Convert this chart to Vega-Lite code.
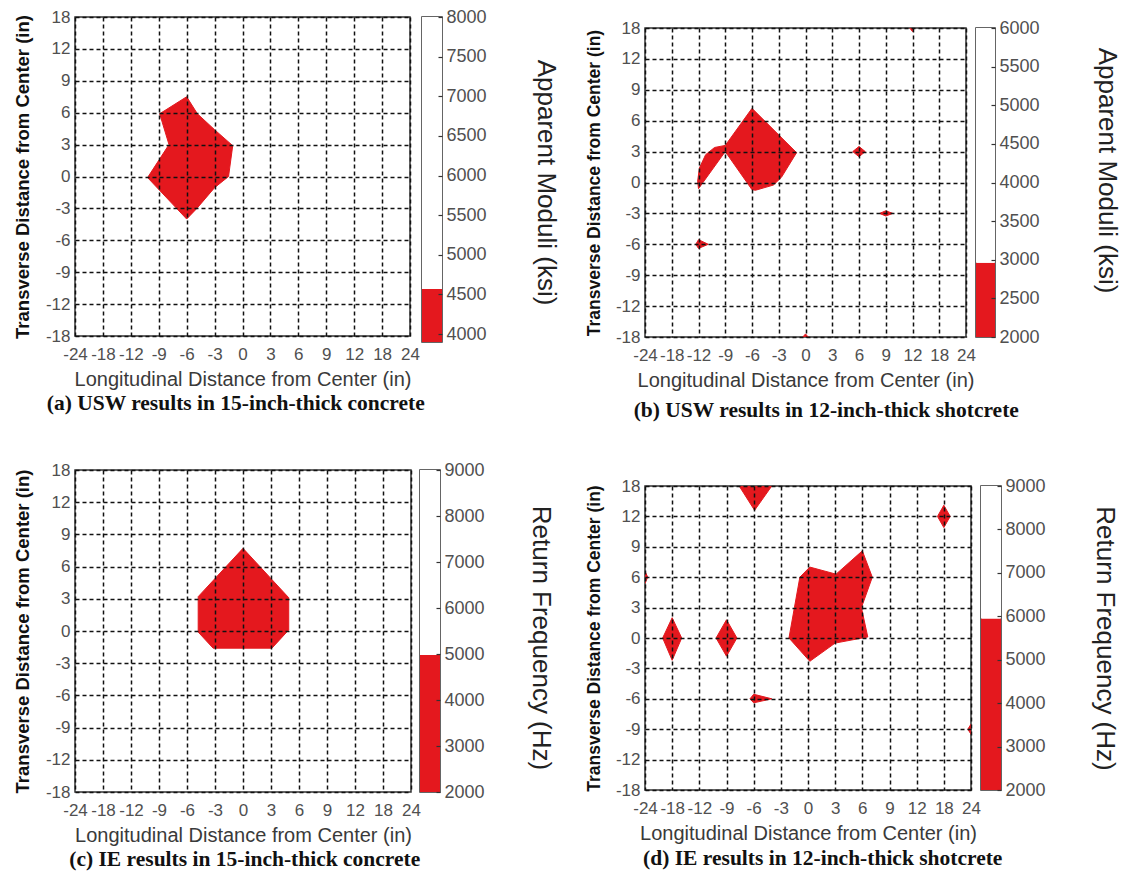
{
  "$schema": "https://vega.github.io/schema/vega-lite/v6.json",
  "background": "white",
  "padding": {"left": 12, "top": 7, "right": 0, "bottom": 0},
  "config": {
    "font": "Liberation Sans",
    "view": {"stroke": "#333333", "strokeWidth": 1.5},
    "axis": {
      "labelFont": "Liberation Sans",
      "labelColor": "#505050",
      "labelFontSize": 17,
      "titleFont": "Liberation Sans",
      "domain": false,
      "ticks": false,
      "labelOverlap": false,
      "labelBound": false,
      "labelFlush": false,
      "gridColor": "#111111",
      "gridDash": [4, 3],
      "gridWidth": 1.5,
      "gridOpacity": 1
    }
  },
  "datasets": {
    "regions_a": [
      {"shape": 1, "i": 0, "x": -6, "y": 7.5},
      {"shape": 1, "i": 1, "x": -4.85, "y": 5.9},
      {"shape": 1, "i": 2, "x": -3, "y": 4.4},
      {"shape": 1, "i": 3, "x": -1.05, "y": 2.9},
      {"shape": 1, "i": 4, "x": -1.5, "y": 0.0},
      {"shape": 1, "i": 5, "x": -3, "y": -1.05},
      {"shape": 1, "i": 6, "x": -4.9, "y": -3},
      {"shape": 1, "i": 7, "x": -6, "y": -4.0},
      {"shape": 1, "i": 8, "x": -10.2, "y": -0.1},
      {"shape": 1, "i": 9, "x": -7.9, "y": 3.0},
      {"shape": 1, "i": 10, "x": -8.9, "y": 5.9}
    ],
    "regions_b": [
      {"shape": 1, "i": 0, "x": -6, "y": 7.2},
      {"shape": 1, "i": 1, "x": -1, "y": 2.9},
      {"shape": 1, "i": 2, "x": -2.7, "y": 0.5},
      {"shape": 1, "i": 3, "x": -3.6, "y": -0.25},
      {"shape": 1, "i": 4, "x": -5.6, "y": -0.75},
      {"shape": 1, "i": 5, "x": -6, "y": -0.7},
      {"shape": 1, "i": 6, "x": -9, "y": 3},
      {"shape": 1, "i": 7, "x": -12, "y": -0.6},
      {"shape": 1, "i": 8, "x": -12.2, "y": 0.1},
      {"shape": 1, "i": 9, "x": -11.9, "y": 1.4},
      {"shape": 1, "i": 10, "x": -11.2, "y": 2.7},
      {"shape": 1, "i": 11, "x": -10.2, "y": 3.4},
      {"shape": 1, "i": 12, "x": -9, "y": 3.6},
      {"shape": 2, "i": 0, "x": 5.3, "y": 3},
      {"shape": 2, "i": 1, "x": 6, "y": 3.5},
      {"shape": 2, "i": 2, "x": 6.7, "y": 3},
      {"shape": 2, "i": 3, "x": 6, "y": 2.5},
      {"shape": 3, "i": 0, "x": 8.3, "y": -3},
      {"shape": 3, "i": 1, "x": 9, "y": -2.75},
      {"shape": 3, "i": 2, "x": 9.8, "y": -3},
      {"shape": 3, "i": 3, "x": 9, "y": -3.25},
      {"shape": 4, "i": 0, "x": -12.6, "y": -6},
      {"shape": 4, "i": 1, "x": -12, "y": -5.55},
      {"shape": 4, "i": 2, "x": -10.9, "y": -6},
      {"shape": 4, "i": 3, "x": -12, "y": -6.4},
      {"shape": 5, "i": 0, "x": 11.7, "y": 18},
      {"shape": 5, "i": 1, "x": 12.3, "y": 18},
      {"shape": 5, "i": 2, "x": 12, "y": 17.3},
      {"shape": 6, "i": 0, "x": -0.3, "y": -18},
      {"shape": 6, "i": 1, "x": 0.3, "y": -18},
      {"shape": 6, "i": 2, "x": 0, "y": -17.4}
    ],
    "regions_c": [
      {"shape": 1, "i": 0, "x": 0, "y": 7.7},
      {"shape": 1, "i": 1, "x": 4.9, "y": 3.1},
      {"shape": 1, "i": 2, "x": 4.9, "y": 0.1},
      {"shape": 1, "i": 3, "x": 3.1, "y": -1.6},
      {"shape": 1, "i": 4, "x": -3.2, "y": -1.6},
      {"shape": 1, "i": 5, "x": -4.8, "y": -0.1},
      {"shape": 1, "i": 6, "x": -4.8, "y": 3.2}
    ],
    "regions_d": [
      {"shape": 1, "i": 0, "x": 0.2, "y": 7.0},
      {"shape": 1, "i": 1, "x": 3.1, "y": 6.3},
      {"shape": 1, "i": 2, "x": 6.0, "y": 8.6},
      {"shape": 1, "i": 3, "x": 7.1, "y": 6.0},
      {"shape": 1, "i": 4, "x": 5.9, "y": 3.0},
      {"shape": 1, "i": 5, "x": 6.6, "y": 0.1},
      {"shape": 1, "i": 6, "x": 3, "y": -0.5},
      {"shape": 1, "i": 7, "x": 0.2, "y": -2.3},
      {"shape": 1, "i": 8, "x": -2.1, "y": 0.0},
      {"shape": 1, "i": 9, "x": -1.5, "y": 3.0},
      {"shape": 1, "i": 10, "x": -0.9, "y": 6.0},
      {"shape": 2, "i": 0, "x": -7.6, "y": 18},
      {"shape": 2, "i": 1, "x": -4.0, "y": 18},
      {"shape": 2, "i": 2, "x": -5.9, "y": 13.2},
      {"shape": 3, "i": 0, "x": 18, "y": 14.2},
      {"shape": 3, "i": 1, "x": 19.4, "y": 12},
      {"shape": 3, "i": 2, "x": 18, "y": 10.9},
      {"shape": 3, "i": 3, "x": 16.6, "y": 12},
      {"shape": 4, "i": 0, "x": -24, "y": 6.6},
      {"shape": 4, "i": 1, "x": -23.4, "y": 6},
      {"shape": 4, "i": 2, "x": -24, "y": 5.4},
      {"shape": 5, "i": 0, "x": 24, "y": -8.5},
      {"shape": 5, "i": 1, "x": 23.3, "y": -9},
      {"shape": 5, "i": 2, "x": 24, "y": -9.5},
      {"shape": 6, "i": 0, "x": -18, "y": 2.0},
      {"shape": 6, "i": 1, "x": -15.9, "y": 0},
      {"shape": 6, "i": 2, "x": -18, "y": -2.2},
      {"shape": 6, "i": 3, "x": -20.1, "y": 0},
      {"shape": 7, "i": 0, "x": -9, "y": 1.8},
      {"shape": 7, "i": 1, "x": -7.85, "y": 0},
      {"shape": 7, "i": 2, "x": -9, "y": -1.8},
      {"shape": 7, "i": 3, "x": -10.15, "y": 0},
      {"shape": 8, "i": 0, "x": -6.4, "y": -6},
      {"shape": 8, "i": 1, "x": -6, "y": -5.55},
      {"shape": 8, "i": 2, "x": -4.0, "y": -6},
      {"shape": 8, "i": 3, "x": -6, "y": -6.4}
    ],
    "scale_a": [{"lo": 3900, "hi": 4570, "band": "below"}, {"lo": 4570, "hi": 8000, "band": "above"}],
    "scale_b": [{"lo": 2000, "hi": 2960, "band": "below"}, {"lo": 2960, "hi": 6000, "band": "above"}],
    "scale_c": [{"lo": 2000, "hi": 4980, "band": "below"}, {"lo": 4980, "hi": 9000, "band": "above"}],
    "scale_d": [{"lo": 2000, "hi": 5950, "band": "below"}, {"lo": 5950, "hi": 9000, "band": "above"}]
  },
  "hconcat": [
    {
      "spacing": 45,
      "vconcat": [
        {
          "bounds": "flush",
          "spacing": 12,
          "title": {"text": "(a) USW results in 15-inch-thick concrete", "orient": "bottom", "font": "Liberation Serif", "fontSize": 21.5, "fontWeight": "bold", "color": "#111111", "offset": 3, "anchor": "middle", "dx": -14},
          "hconcat": [
            {
              "width": 335,
              "height": 319,
              "data": {"name": "regions_a"},
              "mark": {"type": "line", "interpolate": "linear-closed", "fill": "#e4181e", "stroke": "#e4181e", "strokeWidth": 1, "clip": true},
              "encoding": {
                "x": {"field": "x", "type": "quantitative",
                  "scale": {"type": "linear", "nice": false, "zero": false, "domain": [-24, -18, -12, -9, -6, -3, 0, 3, 6, 9, 12, 18, 24], "range": [0, 27.917, 55.833, 83.75, 111.667, 139.583, 167.5, 195.417, 223.333, 251.25, 279.167, 307.083, 335]},
                  "axis": {"title": "Longitudinal Distance from Center (in)", "values": [-24, -18, -12, -9, -6, -3, 0, 3, 6, 9, 12, 18, 24], "labelExpr": "'' + datum.value", "grid": true, "zindex": 1, "labelPadding": 10, "titleFontSize": 20, "titleFontWeight": "normal", "titleColor": "#3a3a3a", "titlePadding": 7}},
                "y": {"field": "y", "type": "quantitative",
                  "scale": {"type": "linear", "nice": false, "zero": false, "domain": [-18, -12, -9, -6, -3, 0, 3, 6, 9, 12, 18], "range": [319, 287.1, 255.2, 223.3, 191.4, 159.5, 127.6, 95.7, 63.8, 31.9, 0]},
                  "axis": {"title": "Transverse Distance from Center (in)", "values": [-18, -12, -9, -6, -3, 0, 3, 6, 9, 12, 18], "labelExpr": "'' + datum.value", "grid": true, "zindex": 1, "labelPadding": 5, "titleFontSize": 18.5, "titleFontWeight": "bold", "titleColor": "#111111", "titlePadding": 13}},
                "detail": {"field": "shape", "type": "nominal"},
                "order": {"field": "i", "type": "quantitative"}
              }
            },
            {
              "width": 20,
              "height": 325,
              "data": {"name": "scale_a"},
              "mark": {"type": "rect"},
              "encoding": {
                "y": {"field": "lo", "type": "quantitative", "scale": {"domain": [3900, 8000], "nice": false, "zero": false},
                  "axis": {"orient": "right", "title": null, "values": [4000, 4500, 5000, 5500, 6000, 6500, 7000, 7500, 8000], "format": "d", "grid": false, "ticks": true, "tickSize": -4, "tickColor": "#333333", "tickWidth": 1.2, "labelPadding": 8, "labelFontSize": 18, "zindex": 1}},
                "y2": {"field": "hi"},
                "color": {"field": "band", "type": "nominal", "scale": {"domain": ["below", "above"], "range": ["#e4181e", "#ffffff"]}, "legend": null}
              }
            }
          ]
        },
        {
          "bounds": "flush",
          "spacing": 9,
          "title": {"text": "(c) IE results in 15-inch-thick concrete", "orient": "bottom", "font": "Liberation Serif", "fontSize": 21.5, "fontWeight": "bold", "color": "#111111", "offset": 3, "anchor": "middle", "dx": -4},
          "hconcat": [
            {
              "width": 336,
              "height": 322,
              "data": {"name": "regions_c"},
              "mark": {"type": "line", "interpolate": "linear-closed", "fill": "#e4181e", "stroke": "#e4181e", "strokeWidth": 1, "clip": true},
              "encoding": {
                "x": {"field": "x", "type": "quantitative",
                  "scale": {"type": "linear", "nice": false, "zero": false, "domain": [-24, -18, -12, -9, -6, -3, 0, 3, 6, 9, 12, 18, 24], "range": [0, 28, 56, 84, 112, 140, 168, 196, 224, 252, 280, 308, 336]},
                  "axis": {"title": "Longitudinal Distance from Center (in)", "values": [-24, -18, -12, -9, -6, -3, 0, 3, 6, 9, 12, 18, 24], "labelExpr": "'' + datum.value", "grid": true, "zindex": 1, "labelPadding": 10, "titleFontSize": 20, "titleFontWeight": "normal", "titleColor": "#3a3a3a", "titlePadding": 7}},
                "y": {"field": "y", "type": "quantitative",
                  "scale": {"type": "linear", "nice": false, "zero": false, "domain": [-18, -12, -9, -6, -3, 0, 3, 6, 9, 12, 18], "range": [322, 289.8, 257.6, 225.4, 193.2, 161, 128.8, 96.6, 64.4, 32.2, 0]},
                  "axis": {"title": "Transverse Distance from Center (in)", "values": [-18, -12, -9, -6, -3, 0, 3, 6, 9, 12, 18], "labelExpr": "'' + datum.value", "grid": true, "zindex": 1, "labelPadding": 5, "titleFontSize": 18.5, "titleFontWeight": "bold", "titleColor": "#111111", "titlePadding": 13}},
                "detail": {"field": "shape", "type": "nominal"},
                "order": {"field": "i", "type": "quantitative"}
              }
            },
            {
              "width": 20,
              "height": 322,
              "data": {"name": "scale_c"},
              "mark": {"type": "rect"},
              "encoding": {
                "y": {"field": "lo", "type": "quantitative", "scale": {"domain": [2000, 9000], "nice": false, "zero": false},
                  "axis": {"orient": "right", "title": null, "values": [2000, 3000, 4000, 5000, 6000, 7000, 8000, 9000], "format": "d", "grid": false, "ticks": true, "tickSize": -4, "tickColor": "#333333", "tickWidth": 1.2, "labelPadding": 8, "labelFontSize": 18, "zindex": 1}},
                "y2": {"field": "hi"},
                "color": {"field": "band", "type": "nominal", "scale": {"domain": ["below", "above"], "range": ["#e4181e", "#ffffff"]}, "legend": null}
              }
            }
          ]
        }
      ]
    },
    {
      "spacing": 0,
      "vconcat": [
        {
          "width": 1,
          "height": 1,
          "view": {"stroke": null},
          "data": {"values": []},
          "mark": {"type": "rect"}
        },
        {
          "spacing": 54,
          "vconcat": [
            {
              "bounds": "flush",
              "spacing": 10,
              "title": {"text": "(b) USW results in 12-inch-thick shotcrete", "orient": "bottom", "font": "Liberation Serif", "fontSize": 21.5, "fontWeight": "bold", "color": "#111111", "offset": 9, "anchor": "middle"},
              "hconcat": [
                {
                  "width": 321,
                  "height": 309,
                  "title": {"text": "Apparent Moduli (ksi)", "orient": "left", "angle": 90, "baseline": "top", "fontSize": 26, "fontWeight": "normal", "color": "#222222", "offset": 0, "anchor": "middle"},
                  "data": {"name": "regions_b"},
                  "mark": {"type": "line", "interpolate": "linear-closed", "fill": "#e4181e", "stroke": "#e4181e", "strokeWidth": 1, "clip": true},
                  "encoding": {
                    "x": {"field": "x", "type": "quantitative",
                      "scale": {"type": "linear", "nice": false, "zero": false, "domain": [-24, -18, -12, -9, -6, -3, 0, 3, 6, 9, 12, 18, 24], "range": [0, 26.75, 53.5, 80.25, 107, 133.75, 160.5, 187.25, 214, 240.75, 267.5, 294.25, 321]},
                      "axis": {"title": "Longitudinal Distance from Center (in)", "values": [-24, -18, -12, -9, -6, -3, 0, 3, 6, 9, 12, 18, 24], "labelExpr": "'' + datum.value", "grid": true, "zindex": 1, "labelPadding": 10, "titleFontSize": 20, "titleFontWeight": "normal", "titleColor": "#3a3a3a", "titlePadding": 7}},
                    "y": {"field": "y", "type": "quantitative",
                      "scale": {"type": "linear", "nice": false, "zero": false, "domain": [-18, -12, -9, -6, -3, 0, 3, 6, 9, 12, 18], "range": [309, 278.1, 247.2, 216.3, 185.4, 154.5, 123.6, 92.7, 61.8, 30.9, 0]},
                      "axis": {"title": "Transverse Distance from Center (in)", "values": [-18, -12, -9, -6, -3, 0, 3, 6, 9, 12, 18], "labelExpr": "'' + datum.value", "grid": true, "zindex": 1, "labelPadding": 5, "titleFontSize": 17.5, "titleFontWeight": "bold", "titleColor": "#111111", "titlePadding": 12}},
                    "detail": {"field": "shape", "type": "nominal"},
                    "order": {"field": "i", "type": "quantitative"}
                  }
                },
                {
                  "width": 19,
                  "height": 309,
                  "data": {"name": "scale_b"},
                  "mark": {"type": "rect"},
                  "encoding": {
                    "y": {"field": "lo", "type": "quantitative", "scale": {"domain": [2000, 6000], "nice": false, "zero": false},
                      "axis": {"orient": "right", "title": "Apparent Moduli (ksi)", "titleAngle": 90, "titleY": 142, "titleFontSize": 26, "titleFontWeight": "normal", "titleColor": "#222222", "titlePadding": 54, "values": [2000, 2500, 3000, 3500, 4000, 4500, 5000, 5500, 6000], "format": "d", "grid": false, "ticks": true, "tickSize": -4, "tickColor": "#333333", "tickWidth": 1.2, "labelPadding": 8, "labelFontSize": 18, "zindex": 1}},
                    "y2": {"field": "hi"},
                    "color": {"field": "band", "type": "nominal", "scale": {"domain": ["below", "above"], "range": ["#e4181e", "#ffffff"]}, "legend": null}
                  }
                }
              ]
            },
            {
              "bounds": "flush",
              "spacing": 10,
              "title": {"text": "(d) IE results in 12-inch-thick shotcrete", "orient": "bottom", "font": "Liberation Serif", "fontSize": 21.5, "fontWeight": "bold", "color": "#111111", "offset": 4, "anchor": "middle"},
              "hconcat": [
                {
                  "width": 326,
                  "height": 304,
                  "title": {"text": "Return Frequency (Hz)", "orient": "left", "angle": 90, "baseline": "top", "fontSize": 26, "fontWeight": "normal", "color": "#222222", "offset": 5, "anchor": "middle"},
                  "data": {"name": "regions_d"},
                  "mark": {"type": "line", "interpolate": "linear-closed", "fill": "#e4181e", "stroke": "#e4181e", "strokeWidth": 1, "clip": true},
                  "encoding": {
                    "x": {"field": "x", "type": "quantitative",
                      "scale": {"type": "linear", "nice": false, "zero": false, "domain": [-24, -18, -12, -9, -6, -3, 0, 3, 6, 9, 12, 18, 24], "range": [0, 27.167, 54.333, 81.5, 108.667, 135.833, 163, 190.167, 217.333, 244.5, 271.667, 298.833, 326]},
                      "axis": {"title": "Longitudinal Distance from Center (in)", "values": [-24, -18, -12, -9, -6, -3, 0, 3, 6, 9, 12, 18, 24], "labelExpr": "'' + datum.value", "grid": true, "zindex": 1, "labelPadding": 10, "titleFontSize": 20, "titleFontWeight": "normal", "titleColor": "#3a3a3a", "titlePadding": 7}},
                    "y": {"field": "y", "type": "quantitative",
                      "scale": {"type": "linear", "nice": false, "zero": false, "domain": [-18, -12, -9, -6, -3, 0, 3, 6, 9, 12, 18], "range": [304, 273.6, 243.2, 212.8, 182.4, 152, 121.6, 91.2, 60.8, 30.4, 0]},
                      "axis": {"title": "Transverse Distance from Center (in)", "values": [-18, -12, -9, -6, -3, 0, 3, 6, 9, 12, 18], "labelExpr": "'' + datum.value", "grid": true, "zindex": 1, "labelPadding": 5, "titleFontSize": 17.5, "titleFontWeight": "bold", "titleColor": "#111111", "titlePadding": 12}},
                    "detail": {"field": "shape", "type": "nominal"},
                    "order": {"field": "i", "type": "quantitative"}
                  }
                },
                {
                  "width": 20,
                  "height": 304,
                  "data": {"name": "scale_d"},
                  "mark": {"type": "rect"},
                  "encoding": {
                    "y": {"field": "lo", "type": "quantitative", "scale": {"domain": [2000, 9000], "nice": false, "zero": false},
                      "axis": {"orient": "right", "title": "Return Frequency (Hz)", "titleAngle": 90, "titleFontSize": 26, "titleFontWeight": "normal", "titleColor": "#222222", "titlePadding": 46, "values": [2000, 3000, 4000, 5000, 6000, 7000, 8000, 9000], "format": "d", "grid": false, "ticks": true, "tickSize": -4, "tickColor": "#333333", "tickWidth": 1.2, "labelPadding": 8, "labelFontSize": 18, "zindex": 1}},
                    "y2": {"field": "hi"},
                    "color": {"field": "band", "type": "nominal", "scale": {"domain": ["below", "above"], "range": ["#e4181e", "#ffffff"]}, "legend": null}
                  }
                }
              ]
            }
          ]
        }
      ]
    }
  ],
  "spacing": 40
}
